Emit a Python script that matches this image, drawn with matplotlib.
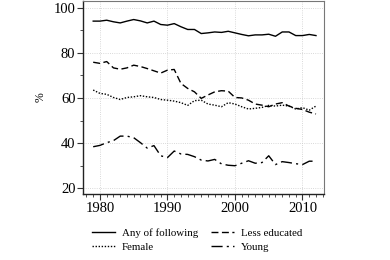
import matplotlib
matplotlib.use("Agg")
import matplotlib.pyplot as plt
from matplotlib.ticker import MultipleLocator

years = list(range(1979, 2013))

any_following = [94.0, 94.0, 94.4, 93.7, 93.2, 94.0, 94.7, 94.1, 93.2, 94.0,
                 92.5, 92.2, 92.9, 91.5, 90.3, 90.3, 88.5, 88.8, 89.2, 89.0,
                 89.5, 88.8, 88.1, 87.5, 87.9, 87.9, 88.2, 87.3, 89.2, 89.2,
                 87.6, 87.6, 88.1, 87.6]
less_educated = [75.8, 75.3, 76.1, 73.3, 72.7, 73.3, 74.5, 73.9, 73.0, 72.0,
                 71.0, 72.3, 72.6, 66.4, 64.2, 62.7, 59.8, 61.3, 62.7, 63.2,
                 63.0, 60.2, 60.0, 59.0, 57.3, 56.8, 56.1, 57.3, 57.9, 56.4,
                 55.4, 54.9, 53.7, 52.9]
female = [63.5, 62.0, 61.6, 60.2, 59.3, 60.2, 60.5, 61.0, 60.5, 60.2,
          59.3, 59.0, 58.6, 57.9, 56.7, 58.8, 59.0, 57.3, 56.8, 56.1,
          57.9, 57.3, 56.1, 55.1, 55.4, 55.8, 56.7, 56.4, 56.8, 56.4,
          55.1, 55.7, 54.6, 56.4]
young = [38.4, 39.0, 40.2, 41.1, 43.1, 43.1, 42.4, 40.2, 37.8, 38.9,
         34.4, 33.6, 36.5, 35.2, 35.0, 34.0, 32.5, 32.1, 32.8, 30.8,
         30.2, 30.0, 31.1, 32.2, 31.1, 31.4, 34.4, 30.5, 31.8, 31.4,
         30.9, 30.5, 32.0, 32.0]

plt.rcParams['font.family'] = ['Liberation Serif', 'DejaVu Serif']

fig = plt.figure(figsize=(3.9, 2.6), dpi=100)
ax = fig.add_axes([0.213, 0.254, 0.618, 0.743])

lw = 1.0
ax.plot(years, any_following, color="black", lw=lw, ls="-", label="Any of following")
ax.plot(years, less_educated, color="black", lw=lw, ls=(0, (5, 2.5)), label="Less educated")
ax.plot(years, female, color="black", lw=lw, ls=(0, (1, 1.2)), label="Female")
ax.plot(years, young, color="black", lw=lw, ls=(0, (8, 3, 1.5, 3)), label="Young")

ax.set_xlim(1977.5, 2013.2)
ax.set_ylim(17.5, 103)
ax.xaxis.set_major_locator(MultipleLocator(10))
ax.xaxis.set_minor_locator(MultipleLocator(1))
ax.yaxis.set_major_locator(MultipleLocator(20))
ax.yaxis.set_minor_locator(MultipleLocator(10))
ax.tick_params(which="major", direction="out", length=4, width=0.8, color="#333333", pad=1.5)
ax.tick_params(which="minor", direction="out", length=2, width=0.6, color="#333333")
ax.tick_params(axis="both", labelsize=10.5)
ax.grid(True, which="major", color="#cccccc", ls=":", lw=0.6)

for side in ["top", "right"]:
    ax.spines[side].set_color("#777777")
    ax.spines[side].set_linewidth(0.8)
for side in ["left", "bottom"]:
    ax.spines[side].set_color("#222222")
    ax.spines[side].set_linewidth(1.0)

ax.set_ylabel("%", fontsize=8.5, labelpad=5)

handles, labels = ax.get_legend_handles_labels()
order = [0, 2, 1, 3]
fig.legend([handles[i] for i in order], [labels[i] for i in order],
           loc="lower center", bbox_to_anchor=(0.505, -0.005), ncol=2,
           frameon=False, fontsize=7.8, handlelength=2.15, handletextpad=0.6,
           columnspacing=1.2, labelspacing=0.4)

fig.savefig("out.png", dpi=100)
